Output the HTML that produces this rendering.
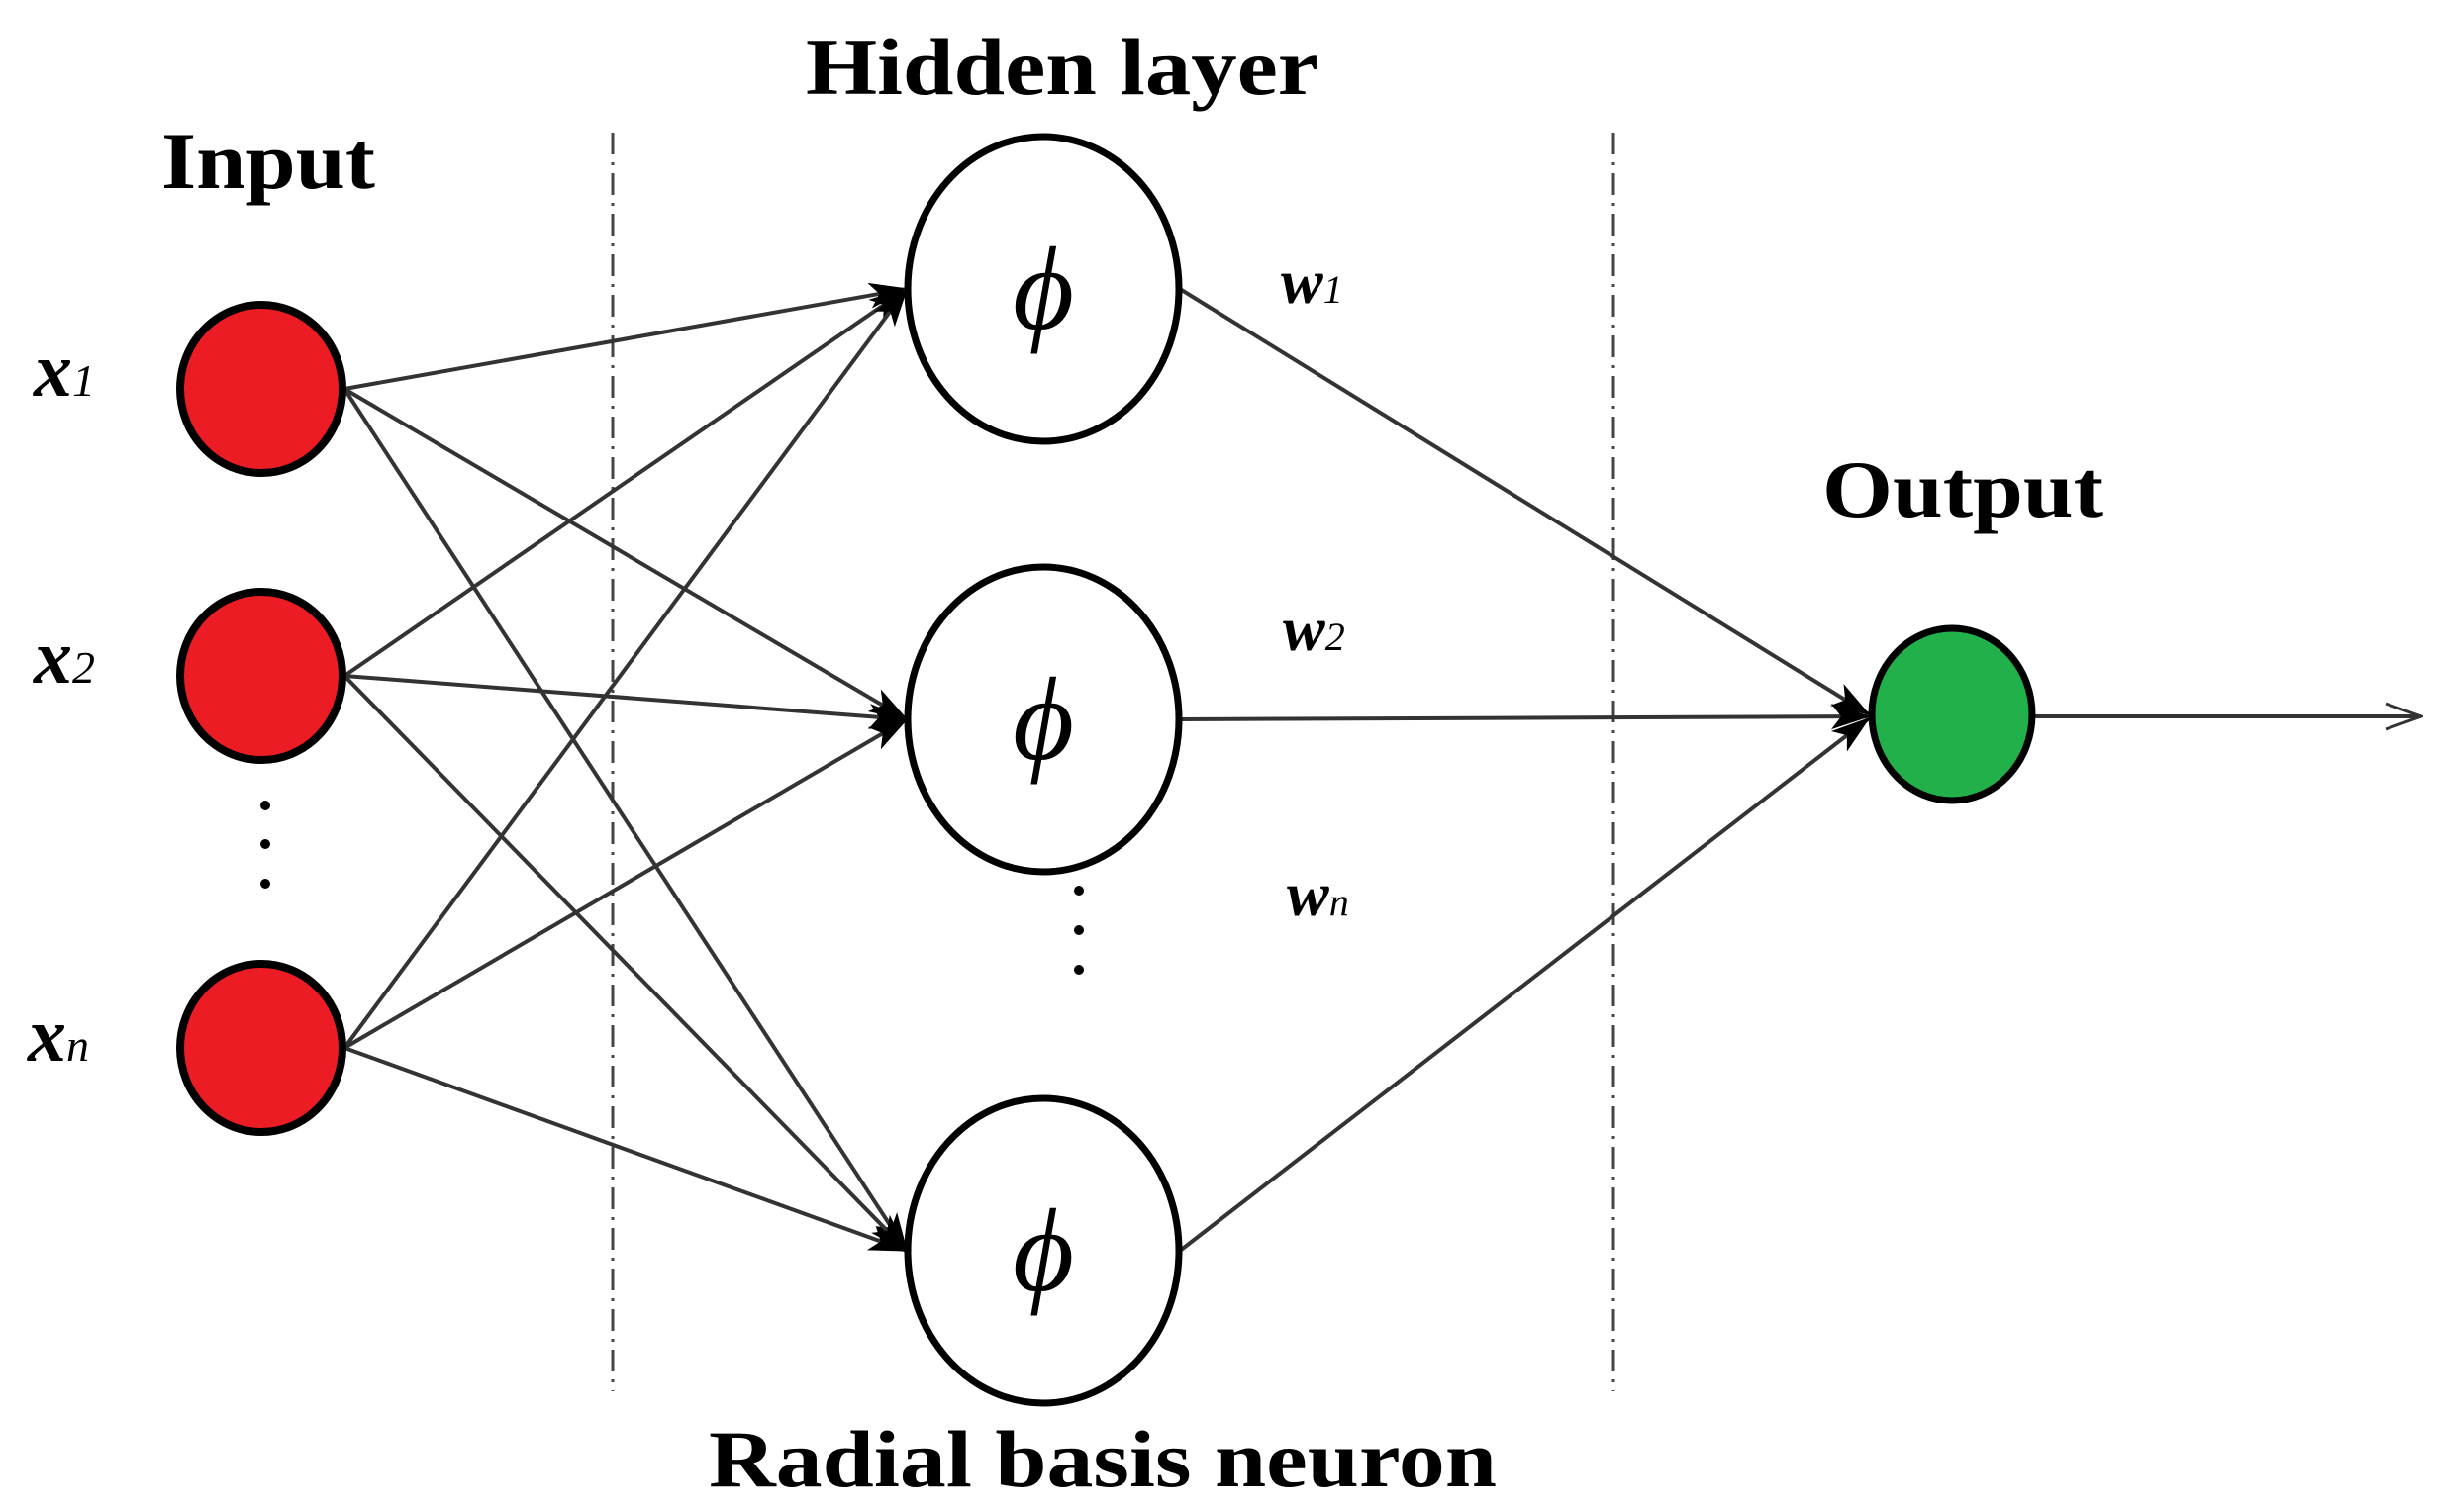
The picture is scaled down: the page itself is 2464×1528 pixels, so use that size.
<!DOCTYPE html>
<html><head><meta charset="utf-8"><style>
html,body{margin:0;padding:0;background:#fff;}
svg{display:block;}
text{font-family:"Liberation Serif",serif;fill:#000;}
</style></head><body>
<svg width="2464" height="1528" viewBox="0 0 2464 1528" xmlns="http://www.w3.org/2000/svg">
<defs>
<marker id="ah" viewBox="0 0 40 30" refX="38" refY="15" markerWidth="40" markerHeight="30" markerUnits="userSpaceOnUse" orient="auto">
<path d="M0,2 L40,15 L0,28 L10,15 Z" fill="#000"/>
</marker>
<marker id="oh" viewBox="0 0 40 30" refX="38" refY="15" markerWidth="40" markerHeight="30" markerUnits="userSpaceOnUse" orient="auto">
<path d="M2,2 L38,15 L2,28" fill="none" stroke="#333" stroke-width="3"/>
</marker>
</defs>

<line x1="619" y1="134" x2="619" y2="1406" stroke="#444" stroke-width="3" stroke-dasharray="22,8,3,8"/>
<line x1="1630" y1="134" x2="1630" y2="1406" stroke="#444" stroke-width="3" stroke-dasharray="22,8,3,8"/>

<g stroke="#333" stroke-width="4" fill="none" marker-end="url(#ah)">
<line x1="348" y1="393" x2="916" y2="292"/>
<line x1="348" y1="393" x2="916" y2="727"/>
<line x1="348" y1="393" x2="916" y2="1264"/>
<line x1="348" y1="683" x2="916" y2="292"/>
<line x1="348" y1="683" x2="916" y2="727"/>
<line x1="348" y1="683" x2="916" y2="1264"/>
<line x1="348" y1="1059" x2="916" y2="292"/>
<line x1="348" y1="1059" x2="916" y2="727"/>
<line x1="348" y1="1059" x2="916" y2="1264"/>
<line x1="1192" y1="292" x2="1888" y2="722"/>
<line x1="1192" y1="727" x2="1888" y2="724"/>
<line x1="1192" y1="1264" x2="1888" y2="726"/>
</g>
<line x1="2054" y1="724" x2="2446" y2="724" stroke="#333" stroke-width="4" marker-end="url(#oh)"/>

<g fill="#ec1c24" stroke="#000" stroke-width="8">
<ellipse cx="264" cy="393" rx="82" ry="85"/>
<ellipse cx="264" cy="683" rx="82" ry="85"/>
<ellipse cx="264" cy="1059" rx="82" ry="85"/>
</g>
<g fill="#fff" stroke="#000" stroke-width="7">
<ellipse cx="1054" cy="292" rx="137" ry="154"/>
<ellipse cx="1054" cy="727" rx="137" ry="154"/>
<ellipse cx="1054" cy="1264" rx="137" ry="154"/>
</g>
<ellipse cx="1972" cy="722" rx="81" ry="87" fill="#22b04b" stroke="#000" stroke-width="7"/>

<g font-style="italic" font-size="120" text-anchor="middle">
<text x="1054" y="332">ϕ</text>
<text x="1054" y="767">ϕ</text>
<text x="1054" y="1304">ϕ</text>
</g>

<g fill="#000">
<circle cx="268" cy="814" r="5"/><circle cx="268" cy="853" r="5"/><circle cx="268" cy="893" r="5"/>
<circle cx="1090" cy="900" r="5"/><circle cx="1090" cy="940" r="5"/><circle cx="1090" cy="980" r="5"/>
</g>

<g font-weight="bold">
<text x="814" y="95" font-size="82" textLength="518" lengthAdjust="spacingAndGlyphs">Hidden layer</text>
<text x="163" y="190" font-size="82" textLength="216" lengthAdjust="spacingAndGlyphs">Input</text>
<text x="1841" y="522" font-size="82" textLength="284" lengthAdjust="spacingAndGlyphs">Output</text>
<text x="716" y="1502" font-size="82" textLength="796" lengthAdjust="spacingAndGlyphs">Radial basis neuron</text>
</g>

<g font-weight="bold" font-style="italic">
<text x="34" y="400" font-size="78">x<tspan font-size="46" font-weight="normal">1</tspan></text>
<text x="34" y="690" font-size="78">x<tspan font-size="46" font-weight="normal">2</tspan></text>
<text x="28" y="1072" font-size="78">x<tspan font-size="46" font-weight="normal">n</tspan></text>
<text x="1294" y="306" font-size="64">w<tspan font-size="40" font-weight="normal">1</tspan></text>
<text x="1296" y="657" font-size="64">w<tspan font-size="40" font-weight="normal">2</tspan></text>
<text x="1300" y="925" font-size="64">w<tspan font-size="40" font-weight="normal">n</tspan></text>
</g>
</svg>
</body></html>
